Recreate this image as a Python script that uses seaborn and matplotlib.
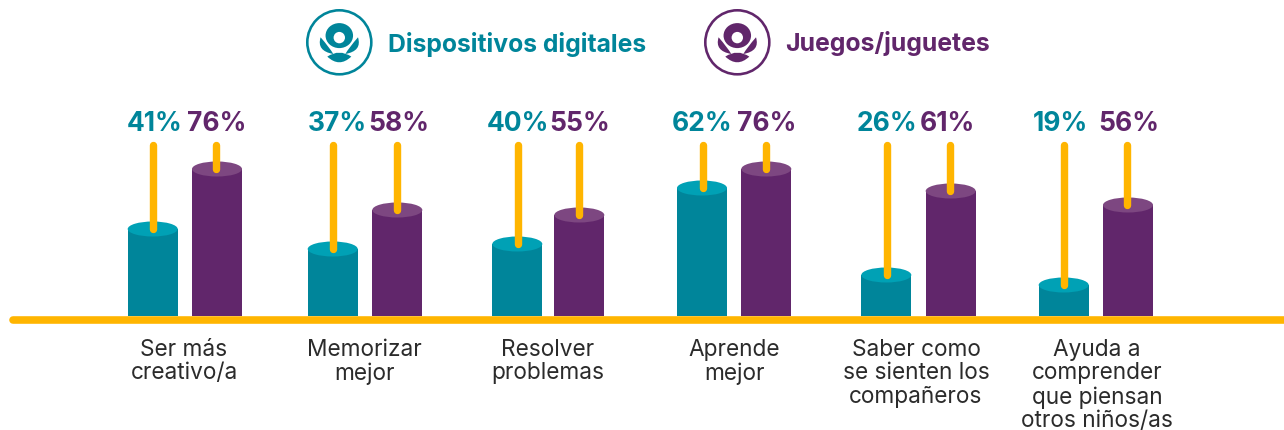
import pandas as pd
import matplotlib.pyplot as plt
import seaborn as sns
from matplotlib.patches import Circle, Ellipse, PathPatch
from matplotlib.path import Path

# Data
categories = ['Ser más\ncreativo/a', 'Memorizar\nmejor', 'Resolver\nproblemas', 'Aprende\nmejor',
              'Saber como\nse sienten los\ncompañeros', 'Ayuda a\ncomprender\nque piensan\notros niños/as']
series_names = ['Dispositivos digitales', 'Juegos/juguetes']
pct_digital = [41, 37, 40, 62, 26, 19]
pct_juegos = [76, 58, 55, 76, 61, 56]
# drawn bar heights are not proportional to the percentages in the original
height_digital = [87, 67, 72, 128, 41, 31]
height_juegos = [147, 106, 101, 147, 125, 111]

# Layout, in pixels
x_digital = [152.7, 332.7, 517.3, 702, 886.3, 1063.7]
x_juegos = [217, 397.3, 579.3, 766.3, 950.7, 1128]
label_x_digital = [154.5, 337.8, 517.5, 702, 886.7, 1060]
label_x_juegos = [217, 398.7, 580, 766.5, 947, 1129]
category_x = [184, 364, 548, 734, 916, 1097]

TEAL, TEAL_TOP = '#00859A', '#00A1B5'
PURPLE, PURPLE_TOP = '#61266B', '#7D4781'
YELLOW = '#FFB500'
PX = 0.72  # one pixel in points at dpi 100

sns.set_theme(style='white')
plt.rcParams['font.family'] = ['Inter', 'DejaVu Sans']

df = pd.concat([
    pd.DataFrame({'pos': x_digital, 'height': height_digital, 'serie': series_names[0]}),
    pd.DataFrame({'pos': x_juegos, 'height': height_juegos, 'serie': series_names[1]}),
])

fig = plt.figure(figsize=(12.84, 4.30), dpi=100)
ax = fig.add_axes([0, 114 / 430, 1, 316 / 430])

sns.barplot(data=df, x='pos', y='height', hue='serie', native_scale=True, dodge=False,
            width=50 / 62, palette=[TEAL, PURPLE], saturation=1, linewidth=0, legend=False, ax=ax)

ax.set_xlim(0, 1284)
ax.set_ylim(0, 316)
ax.set_xlabel('')
ax.set_ylabel('')
ax.set_yticks([])
ax.set_xticks(category_x)
ax.set_xticklabels(categories, fontsize=16.3, color='#2b2b2b', linespacing=1.09)
ax.tick_params(axis='x', length=0, pad=16.5)
sns.despine(ax=ax, left=True, bottom=True)

# cylinder tops, sticks and percentages
for xs, hs, pcts, lxs, col, top, off in [
        (x_digital, height_digital, pct_digital, label_x_digital, TEAL, TEAL_TOP, 0.5),
        (x_juegos, height_juegos, pct_juegos, label_x_juegos, PURPLE, PURPLE_TOP, -0.7)]:
    for x, h, p, lx in zip(xs, hs, pcts, lxs):
        ax.add_patch(Ellipse((x, h), 50, 15, facecolor=top, edgecolor='none', zorder=3))
        ax.plot([x + off, x + off], [h, 171], color=YELLOW, lw=7.4 * PX,
                solid_capstyle='round', zorder=4)
        ax.text(lx, 185, f'{p}%', color=col, fontsize=19, fontweight='bold',
                ha='center', va='baseline')

# baseline
ax.plot([13, 1290], [-3.5, -3.5], color=YELLOW, lw=7.6 * PX, solid_capstyle='round',
        clip_on=False, zorder=5)


# legend icons
def draw_icon(cx, cy, col):
    codes = [Path.MOVETO, Path.CURVE3, Path.CURVE3, Path.CURVE3, Path.CURVE3]
    ax.add_patch(Circle((cx, cy), 32, facecolor='none', edgecolor=col, lw=2.6 * PX, clip_on=False))
    ax.add_patch(Ellipse((cx, cy + 6.7), 27.5, 25, facecolor=col, edgecolor='none'))
    ax.add_patch(Circle((cx, cy + 4.7), 5.7, facecolor='white', edgecolor='none'))
    for s in (-1, 1):
        verts = [(cx + s * 18.7, cy + 5), (cx + s * 23, cy - 8.7), (cx + s * 6, cy - 11.7),
                 (cx + s * 9.7, cy - 5.3), (cx + s * 18.7, cy + 5)]
        ax.add_patch(PathPatch(Path(verts, codes), facecolor=col, edgecolor='none'))
    verts = [(cx - 12, cy - 14.3), (cx, cy - 6.3), (cx + 12, cy - 14.3), (cx, cy - 25.7), (cx - 12, cy - 14.3)]
    ax.add_patch(PathPatch(Path(verts, codes), facecolor=col, edgecolor='none'))


draw_icon(339.3, 273.7, TEAL)
draw_icon(737.3, 273.7, PURPLE)
ax.text(388, 264, series_names[0], color=TEAL, fontsize=17.8, fontweight='bold', va='baseline')
ax.text(785, 265, series_names[1], color=PURPLE, fontsize=17.9, fontweight='bold', va='baseline')

plt.savefig('out.png', dpi=100)
